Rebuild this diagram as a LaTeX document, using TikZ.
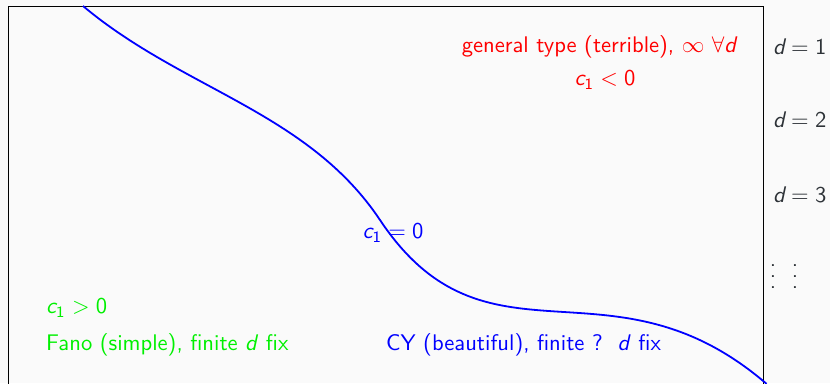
\documentclass[tikz,border=0pt]{standalone}
\usepackage{amssymb}
\newcommand\mv[1]{\textsf{\itshape #1}}
\newcommand\bigt[1]{\scalebox{2.26}{\sffamily #1}}
\newcommand\mydots{\vbox{\baselineskip=4.85pt\lineskiplimit=-20pt\hbox{.}\hbox{.}\hbox{.}}}
\definecolor{bgc}{RGB}{250,250,250}
\definecolor{dgray}{RGB}{45,50,55}
\definecolor{fgreen}{RGB}{0,240,0}
\tikzset{
  lbl/.style={inner sep=0pt},
  redlbl/.style={lbl, text=red},
  greenlbl/.style={lbl, text=fgreen, anchor=west},
  bluelbl/.style={lbl, text=blue},
  dlbl/.style={lbl, text=dgray, anchor=west},
}
\begin{document}
\begin{tikzpicture}[x=1pt,y=-1pt]
\fill[bgc] (0,0) rectangle (830,383);
\useasboundingbox (0,0) rectangle (830,383);
\begin{scope}
\clip (0,0) rectangle (830,383);
\draw[black, line width=1pt] (8,6) rectangle (763,400);
\coordinate (s) at (83,6);
\coordinate (m) at (380,220);
\coordinate (e) at (762,380);
\draw[blue, line width=1.8pt] (s) .. controls (182.6,89.6) and (307.85,111.8) .. (m)
  .. controls (485.5,378.1) and (608,252) .. (e) -- ++(4.6,3.8);
\end{scope}
\node[redlbl] (gen) at (599,47) {\bigt{general type (terrible), $\infty$ $\forall\mv{d}$}};
\node[redlbl] (cneg) at (605,80) {\bigt{$\mv{c}_{\mathsf{1}} < \mathsf{0}$}};
\node[bluelbl] (czero) at (393,233) {\bigt{$\mv{c}_{\mathsf{1}} = \mathsf{0}$}};
\node[greenlbl] (cpos) at (46,308) {\bigt{$\mv{c}_{\mathsf{1}} > \mathsf{0}$}};
\node[greenlbl] (fano) at (46,345) {\bigt{Fano (simple), finite \mv{d} fix}};
\node[bluelbl, anchor=west] (cy) at (386,345) {\bigt{CY (beautiful), finite ?\ \ \mv{d} fix}};
\node[dlbl] (d1) at (773,47) {\bigt{$\mv{d} = \mathsf{1}$}};
\node[dlbl] (d2) at (773,120) {\bigt{$\mv{d} = \mathsf{2}$}};
\node[dlbl] (d3) at (773,195) {\bigt{$\mv{d} = \mathsf{3}$}};
\node[lbl, text=dgray] (v1) at (773,277) {\bigt{\mydots}};
\node[lbl, text=dgray] (v2) at (795,277) {\bigt{\mydots}};
\end{tikzpicture}
\end{document}
